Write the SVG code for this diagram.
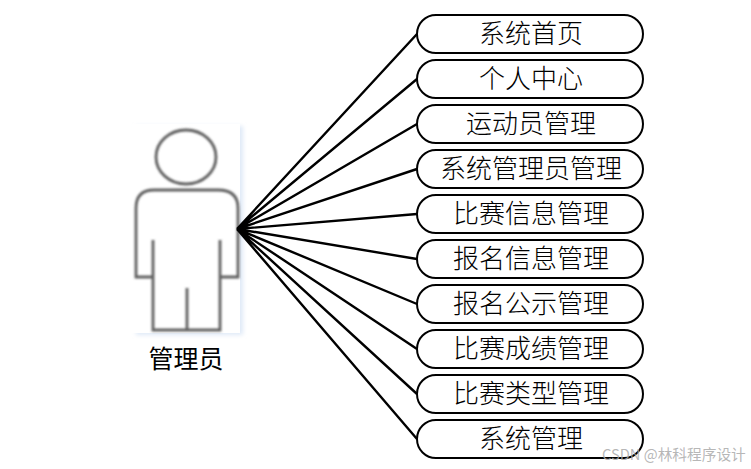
<svg xmlns="http://www.w3.org/2000/svg" width="751" height="469" viewBox="0 0 751 469">
<defs><filter id="blur" x="-10%" y="-10%" width="120%" height="120%"><feGaussianBlur stdDeviation="0.9"/></filter><filter id="sh" x="-10%" y="-10%" width="120%" height="120%"><feGaussianBlur stdDeviation="2"/></filter></defs>
<style>
.box{fill:#fff;stroke:#000;stroke-width:2}
.lbl{font-family:"Noto Sans CJK SC","Noto Sans CJK JP",sans-serif;font-size:26px;fill:#000;text-anchor:middle;font-weight:300}
.fig{fill:none;stroke:#5f5f5f;stroke-width:2.8}
.con{stroke:#000;stroke-width:2.4;fill:none}
</style>
<rect width="751" height="469" fill="#fff"/>
<g id="actor">
<rect x="136" y="126" width="107" height="209" fill="#dfe9f7" filter="url(#sh)"/>
<rect x="132" y="124" width="108" height="209" fill="#fff"/>
<g filter="url(#blur)">
<ellipse class="fig" cx="186" cy="157" rx="30" ry="27"/>
<path class="fig" d="M153 277H136V208Q136 190 154 190H218Q238 190 238 208V277H220"/>
<path class="fig" d="M153 240V330H220V240M187 288V330"/>
</g>
<text x="186" y="368" style="font-family:'Noto Sans CJK SC',sans-serif;font-size:25px;fill:#000;text-anchor:middle;font-weight:400">管理员</text>
</g>
<g id="connectors">
<path class="con" d="M237 229L417 34M237 229L417 79M237 229L417 124M237 229L417 169M237 229L417 214M237 229L417 259M237 229L417 304M237 229L417 349M237 229L417 394M237 229L417 439"/>
</g>
<g id="n1"><rect class="box" x="417" y="15" width="226" height="38" rx="19"/><text class="lbl" x="531" y="43">系统首页</text></g>
<g id="n2"><rect class="box" x="417" y="60" width="226" height="38" rx="19"/><text class="lbl" x="531" y="88">个人中心</text></g>
<g id="n3"><rect class="box" x="417" y="105" width="226" height="38" rx="19"/><text class="lbl" x="531" y="133">运动员管理</text></g>
<g id="n4"><rect class="box" x="417" y="150" width="226" height="38" rx="19"/><text class="lbl" x="531" y="178">系统管理员管理</text></g>
<g id="n5"><rect class="box" x="417" y="195" width="226" height="38" rx="19"/><text class="lbl" x="531" y="223">比赛信息管理</text></g>
<g id="n6"><rect class="box" x="417" y="240" width="226" height="38" rx="19"/><text class="lbl" x="531" y="268">报名信息管理</text></g>
<g id="n7"><rect class="box" x="417" y="285" width="226" height="38" rx="19"/><text class="lbl" x="531" y="313">报名公示管理</text></g>
<g id="n8"><rect class="box" x="417" y="330" width="226" height="38" rx="19"/><text class="lbl" x="531" y="358">比赛成绩管理</text></g>
<g id="n9"><rect class="box" x="417" y="375" width="226" height="38" rx="19"/><text class="lbl" x="531" y="403">比赛类型管理</text></g>
<g id="n10"><rect class="box" x="417" y="420" width="226" height="38" rx="19"/><text class="lbl" x="531" y="448">系统管理</text></g>
<text x="602" y="460" style="font-family:'Noto Sans CJK SC',sans-serif;font-size:14.700px;fill:#aaa" fill-opacity="0.85">CSDN @林科程序设计</text>
</svg>
